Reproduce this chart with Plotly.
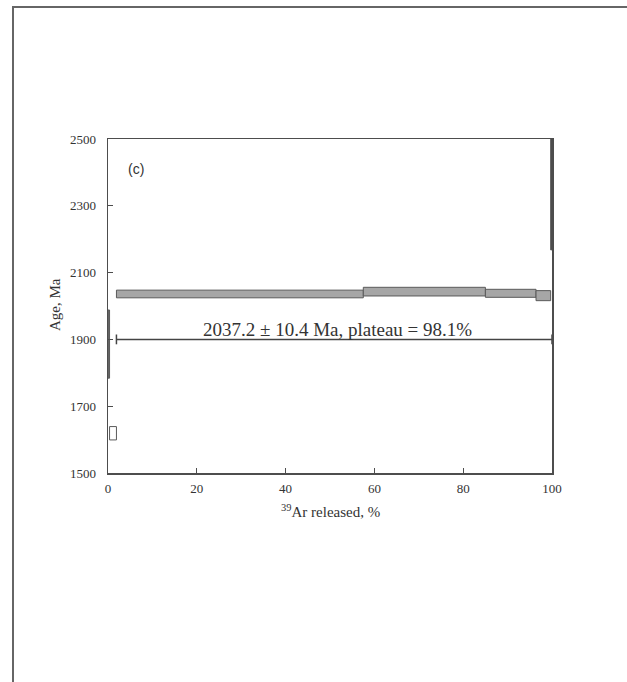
import plotly.graph_objects as go

# ---- data: age spectrum steps (cumulative % 39Ar released, apparent age, half width of error box) ----
step_x_start = [0.0, 0.35, 1.9, 57.5, 85.0, 96.4, 99.7]
step_x_end   = [0.35, 1.9, 57.5, 85.0, 96.4, 99.7, 100.0]
step_age     = [1886, 1619, 2036, 2043, 2038, 2031, 2434]
step_err     = [102, 20, 11.5, 13, 12, 15, 266]
step_fill    = ["#6e6e6e", "#ffffff", "#a6a6a6", "#a6a6a6", "#a6a6a6", "#a6a6a6", "#3c3c3c"]

plateau_x = [1.9, 100.0]
plateau_level = 1900
plateau_text = "2037.2 ± 10.4 Ma, plateau = 98.1%"
panel_label = "(c)"

x_ticks = [0, 20, 40, 60, 80, 100]
y_ticks = [1500, 1700, 1900, 2100, 2300, 2500]

# ---- geometry ----
W, H = 627, 682
L, R, T, B = 108, 75, 139, 209
PW, PH = W - L - R, H - T - B

def px_to_paper_x(px):
    return (px - L) / PW

def px_to_paper_y(py):
    return (H - B - py) / PH

fig = go.Figure()

for x0, x1, a, e, fc in zip(step_x_start, step_x_end, step_age, step_err, step_fill):
    lo, hi = a - e, a + e
    fig.add_trace(go.Scatter(
        x=[x0, x1, x1, x0, x0], y=[lo, lo, hi, hi, lo],
        mode="lines", fill="toself", fillcolor=fc,
        line=dict(color="#5a5a5a", width=1),
        hoverinfo="skip", showlegend=False,
    ))

# plateau bar
fig.add_trace(go.Scatter(
    x=plateau_x, y=[plateau_level, plateau_level],
    mode="lines+markers",
    line=dict(color="#444444", width=1.5),
    marker=dict(symbol="line-ns", size=7, line=dict(color="#444444", width=1.5)),
    hoverinfo="skip", showlegend=False,
))

font_serif = "Liberation Serif, Times New Roman, serif"

fig.add_annotation(
    x=51.7, y=plateau_level, xref="x", yref="y",
    text=plateau_text, showarrow=False, xanchor="center", yanchor="bottom", yshift=-3,
    font=dict(family=font_serif, size=19, color="#333333"),
)
fig.add_annotation(
    x=6.4, y=2410, xref="x", yref="y", text=panel_label, showarrow=False,
    xanchor="center", yanchor="middle",
    font=dict(family="Liberation Sans, Arial, sans-serif", size=14, color="#333333"),
)
# axis titles
fig.add_annotation(
    x=px_to_paper_x(330), y=px_to_paper_y(511), xref="paper", yref="paper",
    text="<sup>39</sup>Ar released, %", showarrow=False,
    xanchor="center", yanchor="middle",
    font=dict(family=font_serif, size=15, color="#333333"),
)
fig.add_annotation(
    x=px_to_paper_x(55), y=px_to_paper_y(305), xref="paper", yref="paper",
    text="Age, Ma", showarrow=False, textangle=-90,
    xanchor="center", yanchor="middle",
    font=dict(family=font_serif, size=15, color="#333333"),
)

# outer frame (left and top edges of a bounding box)
fig.add_shape(
    type="path", xref="paper", yref="paper",
    path=f"M {px_to_paper_x(13)} {px_to_paper_y(690)} L {px_to_paper_x(13)} {px_to_paper_y(7)} L {px_to_paper_x(640)} {px_to_paper_y(7)}",
    line=dict(color="#666666", width=2),
)

axis_common = dict(
    showline=True, linecolor="#4d4d4d", linewidth=1.5, mirror=True,
    ticks="inside", ticklen=5, tickcolor="#4d4d4d", tickwidth=1,
    showgrid=False, zeroline=False,
    tickfont=dict(family=font_serif, size=13, color="#333333"),
)

fig.update_xaxes(range=[0, 100], tickvals=x_ticks, ticklabelstandoff=3, **axis_common)
fig.update_yaxes(range=[1500, 2500], tickvals=y_ticks, ticklabelstandoff=8, **axis_common)

fig.update_layout(
    width=W, height=H,
    margin=dict(l=L, r=R, t=T, b=B, autoexpand=False),
    paper_bgcolor="#ffffff", plot_bgcolor="#ffffff",
    showlegend=False,
)

fig.write_html(
    "out.html",
    config={"displayModeBar": False, "staticPlot": True},
    post_script="document.body.style.margin='0px';",
)
